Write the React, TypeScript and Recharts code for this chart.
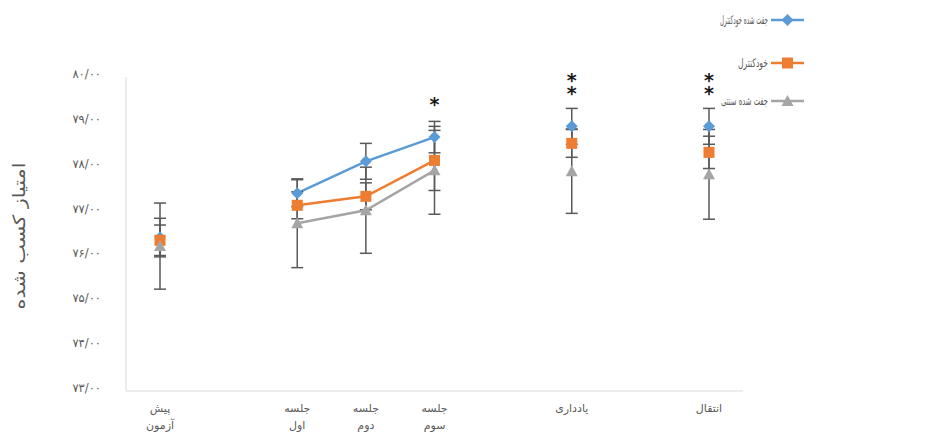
import React from "react";
import {
  ComposedChart,
  Line,
  XAxis,
  YAxis,
  ErrorBar,
  LabelList,
} from "recharts";

const categories = ["پیش\nآزمون", "", "جلسه\nاول", "جلسه\nدوم", "جلسه\nسوم", "", "یادداری", "", "انتقال"];
const pairedSelf = [76.42, null, 77.41, 78.12, 78.66, null, 78.9, null, 78.9];
const pairedSelfErr = [0.43, null, 0.3, 0.4, 0.35, null, 0.4, null, 0.4];
const selfCtrl = [76.36, null, 77.14, 77.34, 78.14, null, 78.52, null, 78.32];
const selfCtrlErr = [0.34, null, 0.3, 0.3, 0.67, null, 0.31, null, 0.36];
const pairedTrad = [76.23, null, 76.74, 77.03, 77.92, null, 77.9, null, 77.83];
const pairedTradErr = [0.96, null, 0.99, 0.96, 0.98, null, 0.94, null, 1.0];
const significance = ["", "", "", "", "*", "", "**", "", "**"];
const yTicks = [73, 74, 75, 76, 77, 78, 79, 80];

const seriesNames = ["جفت شده خودکنترل", "خودکنترل", "جفت شده سنتی"];

const BLUE = "#5B9BD5";
const ORANGE = "#ED7D31";
const GRAY = "#A5A5A5";
const FONT = "'DejaVu Sans', sans-serif";
const TEXT = "#595959";

const data = categories.map((c, i) => ({
  cat: c,
  a: pairedSelf[i],
  aErr: pairedSelfErr[i],
  b: selfCtrl[i],
  bErr: selfCtrlErr[i],
  c: pairedTrad[i],
  cErr: pairedTradErr[i],
  sig: significance[i],
}));

const faDigits = "۰۱۲۳۴۵۶۷۸۹";
function toFa(n: number) {
  return n
    .toFixed(2)
    .replace(".", "/")
    .replace(/\d/g, (d) => faDigits[Number(d)]);
}

function marker(shape: string, cx: number, cy: number, color: string, key?: any) {
  if (shape === "diamond") {
    return (
      <path key={key} d={`M${cx},${cy - 6} L${cx + 6},${cy} L${cx},${cy + 6} L${cx - 6},${cy} Z`} fill={color} />
    );
  }
  if (shape === "square") {
    return <rect key={key} x={cx - 5.5} y={cy - 5.5} width={11} height={11} fill={color} />;
  }
  return (
    <path key={key} d={`M${cx},${cy - 6} L${cx + 6},${cy + 5} L${cx - 6},${cy + 5} Z`} fill={color} />
  );
}

const makeDot = (shape: string, color: string) => (props: any) => {
  const { cx, cy, index, value } = props;
  if (value == null || cy == null || isNaN(cy)) return <g key={`d-${index}`} />;
  return marker(shape, cx, cy, color, `d-${index}`);
};

function XTick(props: any) {
  const { x, y, payload } = props;
  const lines = String(payload.value).split("\n");
  return (
    <text x={x} y={y} textAnchor="middle" fill={TEXT} fontSize={11} fontFamily={FONT}>
      {lines.map((l, i) => (
        <tspan key={i} x={x} dy={i === 0 ? 11 : 17}>
          {l}
        </tspan>
      ))}
    </text>
  );
}

function YTick(props: any) {
  const { x, y, payload } = props;
  return (
    <text x={x} y={y - 3} dy={4} textAnchor="end" fill={TEXT} fontSize={11.5} fontFamily={FONT}>
      {toFa(payload.value)}
    </text>
  );
}

// significance stars stacked above the point, one text per category
function StarLabel(props: any) {
  const { x, y, value, index } = props;
  if (!value || y == null) return <g key={`s-${index}`} />;
  const stars = String(value).split("");
  return (
    <text
      key={`s-${index}`}
      x={x}
      y={y - 26 - (stars.length - 1) * 13}
      textAnchor="middle"
      fontSize={19}
      fontWeight="bold"
      fill="#1a1a1a"
      fontFamily={FONT}
    >
      {stars.map((s, i) => (
        <tspan key={i} x={x} dy={i === 0 ? 0 : 13}>
          {s}
        </tspan>
      ))}
    </text>
  );
}

// legend drawn over the chart, Excel style: label then line sample
function LegendOverlay() {
  const colors = [BLUE, ORANGE, GRAY];
  const shapes = ["diamond", "square", "triangle"];
  const rows = [20, 63, 101];
  const textW = [48, 30, 47];
  return (
    <svg
      width={945}
      height={443}
      style={{ position: "absolute", left: 0, top: 0, pointerEvents: "none" }}
    >
      {seriesNames.map((n, i) => (
        <g key={n}>
          <text
            x={768}
            y={rows[i] + 4}
            textAnchor="end"
            fontSize={12}
            fill={TEXT}
            fontFamily={FONT}
            textLength={textW[i]}
            lengthAdjust="spacingAndGlyphs"
          >
            {n}
          </text>
          <line x1={771} x2={804} y1={rows[i]} y2={rows[i]} stroke={colors[i]} strokeWidth={2.5} />
          {marker(shapes[i], 787.5, rows[i], colors[i])}
        </g>
      ))}
    </svg>
  );
}

export default function App() {
  return (
    <div style={{ position: "absolute", left: 0, top: 0, width: 945, height: 443, background: "#fff" }}>
      <ComposedChart
        width={945}
        height={443}
        data={data}
        margin={{ top: 77, right: 202, bottom: 0, left: 0 }}
      >
        <XAxis
          dataKey="cat"
          interval={0}
          tick={<XTick />}
          tickLine={false}
          tickSize={0}
          tickMargin={10}
          height={52}
          padding={{ left: 34, right: 34 }}
          axisLine={{ stroke: "#D9D9D9" }}
        />
        <YAxis
          domain={[73, 80]}
          ticks={yTicks}
          tick={<YTick />}
          tickLine={false}
          tickSize={0}
          tickMargin={25}
          width={126}
          axisLine={{ stroke: "#D9D9D9" }}
          label={{
            content: () => (
              <text
                transform="translate(19,236) rotate(-90)"
                textAnchor="middle"
                dominantBaseline="central"
                fontSize={17}
                fill={TEXT}
                fontFamily={FONT}
                textLength={147}
                lengthAdjust="spacingAndGlyphs"
              >
                امتیاز کسب شده
              </text>
            ),
          }}
        />
        <Line
          dataKey="a"
          name={seriesNames[0]}
          stroke={BLUE}
          strokeWidth={2.5}
          dot={makeDot("diamond", BLUE)}
          activeDot={false}
          isAnimationActive={false}
        >
          <ErrorBar dataKey="aErr" width={6} stroke="#595959" strokeWidth={1.5} />
          <LabelList dataKey="sig" content={<StarLabel />} />
        </Line>
        <Line
          dataKey="b"
          name={seriesNames[1]}
          stroke={ORANGE}
          strokeWidth={2.5}
          dot={makeDot("square", ORANGE)}
          activeDot={false}
          isAnimationActive={false}
        >
          <ErrorBar dataKey="bErr" width={6} stroke="#595959" strokeWidth={1.5} />
        </Line>
        <Line
          dataKey="c"
          name={seriesNames[2]}
          stroke={GRAY}
          strokeWidth={2.5}
          dot={makeDot("triangle", GRAY)}
          activeDot={false}
          isAnimationActive={false}
        >
          <ErrorBar dataKey="cErr" width={6} stroke="#595959" strokeWidth={1.5} />
        </Line>
      </ComposedChart>
      <LegendOverlay />
    </div>
  );
}
